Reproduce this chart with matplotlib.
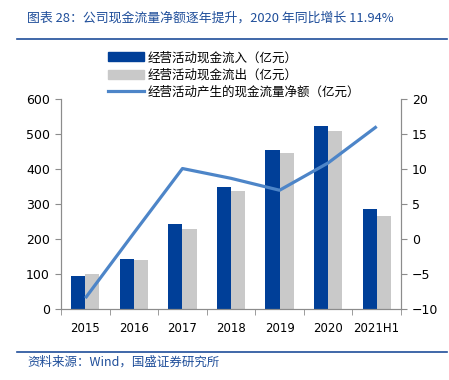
import numpy as np
import matplotlib
matplotlib.use("Agg")
import matplotlib.pyplot as plt
from matplotlib.lines import Line2D

plt.rcParams["font.family"] = ["DejaVu Sans", "Noto Sans CJK SC"]
plt.rcParams["font.size"] = 8

years = ["2015", "2016", "2017", "2018", "2019", "2020", "2021H1"]
inflow = [95, 144, 243, 349, 456, 523, 286]
outflow = [101, 140, 229, 337, 447, 509, 267]
net = [-8.4, 0.9, 10.1, 8.7, 7.0, 10.9, 16.1]

c_in = "#003F98"
c_out = "#C9C9C9"
c_net = "#4D85C8"
c_title = "#1F4E9A"
c_spine = "#8C8C8C"

fig = plt.figure(figsize=(4.49, 3.80), dpi=100)
ax = fig.add_axes([0.136, 0.186, 0.757, 0.553])
ax2 = ax.twinx()

x = np.arange(len(years))
w = 0.29
ax.bar(x - w / 2, inflow, w, color=c_in, zorder=2)
ax.bar(x + w / 2, outflow, w, color=c_out, zorder=2)
ax2.plot(x, net, color=c_net, lw=2.3, solid_capstyle="butt")

ax.set_xlim(-0.5, len(years) - 0.5)
ax.set_ylim(0, 600)
ax.set_yticks(range(0, 601, 100))
ax2.set_ylim(-10, 20)
ax2.set_yticks(range(-10, 21, 5))

ax.set_xticks(x)
ax.set_xticklabels(years, fontsize=8.5)
ax.set_xticks(np.arange(-0.5, len(years), 1), minor=True)
ax.tick_params(axis="x", which="major", length=0, pad=9)
ax.tick_params(axis="x", which="minor", length=4, direction="out", color=c_spine)
ax.tick_params(axis="y", length=4, color=c_spine, labelsize=9, pad=4)
ax2.tick_params(axis="y", length=4, color=c_spine, labelsize=9, pad=4)

for a in (ax, ax2):
    a.spines["top"].set_visible(False)
    for s in ("left", "right", "bottom"):
        a.spines[s].set_color(c_spine)
        a.spines[s].set_linewidth(0.8)

handles = [
    plt.Rectangle((0, 0), 1, 1, color=c_in),
    plt.Rectangle((0, 0), 1, 1, color=c_out),
    Line2D([], [], color=c_net, lw=2.3),
]
labels = ["经营活动现金流入（亿元）", "经营活动现金流出（亿元）", "经营活动产生的现金流量净额（亿元）"]
fig.legend(handles, labels, loc="upper left", bbox_to_anchor=(0.215, 0.895),
           frameon=False, handlelength=2.9, handleheight=0.75,
           handletextpad=0.3, labelspacing=0.35,
           prop={"family": ["Noto Sans CJK SC"], "size": 9})

fig.text(0.06, 0.952, "图表 28：公司现金流量净额逐年提升，2020 年同比增长 11.94%",
         color=c_title, fontsize=9.3, va="center",
         family=["Noto Sans CJK SC", "DejaVu Sans"])
fig.add_artist(Line2D([0.038, 0.995], [0.897, 0.897], color=c_title, lw=1.2))
fig.add_artist(Line2D([0.038, 0.995], [0.074, 0.074], color=c_title, lw=1.2))
fig.text(0.06, 0.047, "资料来源：Wind，国盛证券研究所", color=c_title, fontsize=9,
         va="center", family=["Noto Sans CJK SC", "DejaVu Sans"])

fig.savefig("out.png", dpi=100)
